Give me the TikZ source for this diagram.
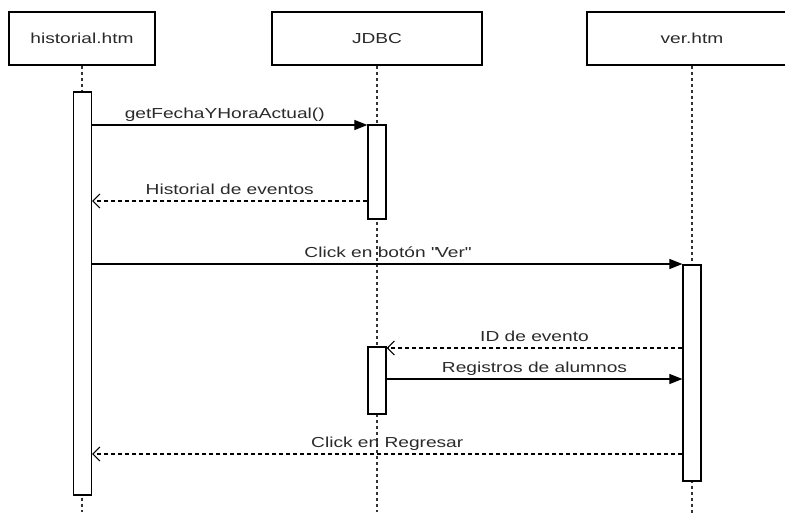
\documentclass[tikz,border=0pt]{standalone}
\usepackage{fontspec}
\setmainfont[FakeStretch=1.32]{Liberation Sans}
\usetikzlibrary{arrows.meta}
\definecolor{txt}{HTML}{2A2A2A}
\begin{document}
\begin{tikzpicture}[x=1pt,y=-1pt,
  every node/.style={font=\fontsize{14.5}{17}\selectfont, text=txt},
  headbox/.style={draw=black, line width=1.2pt, fill=white, minimum height=53pt, inner sep=0pt},
  actbox/.style={draw=black, line width=1.2pt, fill=white, minimum width=18pt, inner sep=0pt},
  lifeline/.style={draw=black!80, line width=1.2pt, dash pattern=on 3pt off 3pt},
  callmsg/.style={draw=black, line width=1.1pt, -{Triangle[length=13pt,width=10pt]}},
  retmsg/.style={draw=black, line width=1.1pt, dash pattern=on 4pt off 3pt, -{Straight Barb[length=7pt,width=14pt,line width=1.1pt]}},
  lbl/.style={anchor=base, yshift=6.5pt, inner sep=0pt}]
\clip (0,0) rectangle (785,515);
% lifelines
\coordinate (hb) at (82,512);
\coordinate (jb) at (377,512);
\coordinate (vb) at (692,514);
\node[headbox, minimum width=146pt] (hist) at (82,38.5) {historial.htm};
\node[headbox, minimum width=210pt] (jdbc) at (377,38.5) {JDBC};
\node[headbox, minimum width=210pt] (ver) at (692,38.5) {ver.htm};
\draw[lifeline] (hist.south) -- (hb);
\draw[lifeline] (jdbc.south) -- (jb);
\draw[lifeline] (ver.south) -- (vb);
% activations
\node[actbox, minimum height=403pt] (hact) at (82.5,293.5) {};
\node[actbox, minimum height=94pt] (jact1) at (377,172) {};
\node[actbox, minimum height=67pt] (jact2) at (377,380.5) {};
\node[actbox, minimum height=216pt] (vact) at (692,373) {};
% message end points
\coordinate (m1a) at (hact.east |- 0,125);
\coordinate (m1b) at (jact1.west |- 0,125);
\coordinate (m2a) at (jact1.west |- 0,201);
\coordinate (m2b) at (hact.east |- 0,201);
\coordinate (m3a) at (hact.east |- 0,264);
\coordinate (m3b) at (vact.west |- 0,264);
\coordinate (m4a) at (vact.west |- 0,348);
\coordinate (m4b) at (jact2.east |- 0,348);
\coordinate (m5a) at (jact2.east |- 0,379);
\coordinate (m5b) at (vact.west |- 0,379);
\coordinate (m6a) at (vact.west |- 0,454);
\coordinate (m6b) at (hact.east |- 0,454);
% messages
\draw[callmsg] (m1a) -- node[lbl, xshift=-5pt] {getFechaYHoraActual()} (m1b);
\draw[retmsg] (m2a) -- node[lbl] {Historial de eventos} (m2b);
\draw[callmsg] (m3a) -- node[lbl] {Click en botón \textquotedbl Ver\textquotedbl} (m3b);
\draw[retmsg] (m4a) -- node[lbl] {ID de evento} (m4b);
\draw[callmsg] (m5a) -- node[lbl] {Registros de alumnos} (m5b);
\draw[retmsg] (m6a) -- node[lbl] {Click en Regresar} (m6b);
\end{tikzpicture}
\end{document}
